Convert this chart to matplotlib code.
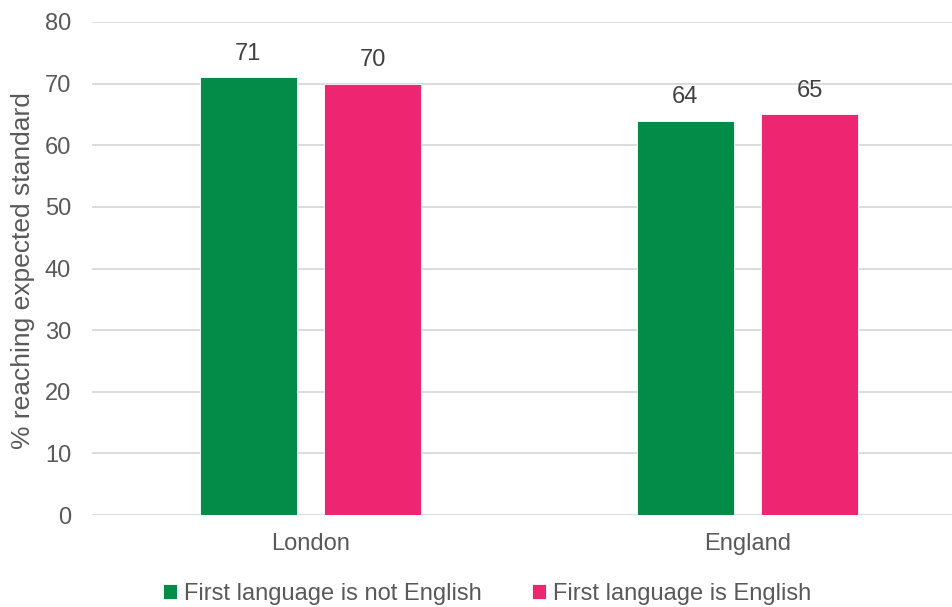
import matplotlib
matplotlib.use("Agg")
import matplotlib.pyplot as plt
import numpy as np

plt.rcParams['font.family'] = ['Liberation Sans', 'DejaVu Sans']

categories = ["London", "England"]
series_names = ["First language is not English", "First language is English"]
not_english = [71, 64]
english = [70, 65]
colors = ["#038b48", "#ee2570"]
yticks = [0, 10, 20, 30, 40, 50, 60, 70, 80]

W, H = 953, 607
fig = plt.figure(figsize=(W / 100, H / 100), dpi=100)
ax = fig.add_axes([92 / W, 92 / H, (W - 92) / W, 493 / H])

x = np.arange(len(categories))
bw = 0.222
off = 0.1425
series = [not_english, english]
for i, (vals, name, c) in enumerate(zip(series, series_names, colors)):
    pos = x + (-off if i == 0 else off)
    ax.bar(pos, vals, width=bw, color=c, label=name, zorder=3,
           edgecolor="white", linewidth=0.6)
    for p, v in zip(pos, vals):
        ax.annotate(f"{v}", (p, v), xytext=(0, 17), textcoords="offset points",
                    ha="center", va="center", fontsize=17, color="#404040")

ax.set_ylim(0, 80)
ax.set_xlim(-0.5, -0.5 + (W - 92) / 437)
ax.set_yticks(yticks)
ax.set_xticks(x)
ax.set_xticklabels(categories)
ax.grid(axis="y", color="#d9d9d9", linewidth=1.3, zorder=0)
ax.set_axisbelow(True)
for s in ax.spines.values():
    s.set_visible(False)
ax.tick_params(axis="both", length=0, labelsize=17, labelcolor="#595959")
ax.tick_params(axis="y", pad=15)
ax.tick_params(axis="x", pad=13)

fig.text(23 / W, 1 - 271 / H, "% reaching expected standard", rotation=90,
         ha="center", va="center", fontsize=19, color="#595959")

fig.legend(loc="center", bbox_to_anchor=(487 / W, 1 - 594 / H), ncol=2,
           frameon=False, fontsize=17, handlelength=0.6, handleheight=0.6,
           handletextpad=0.3, columnspacing=2.1, labelcolor="#595959")

fig.savefig("out.png", dpi=100)
